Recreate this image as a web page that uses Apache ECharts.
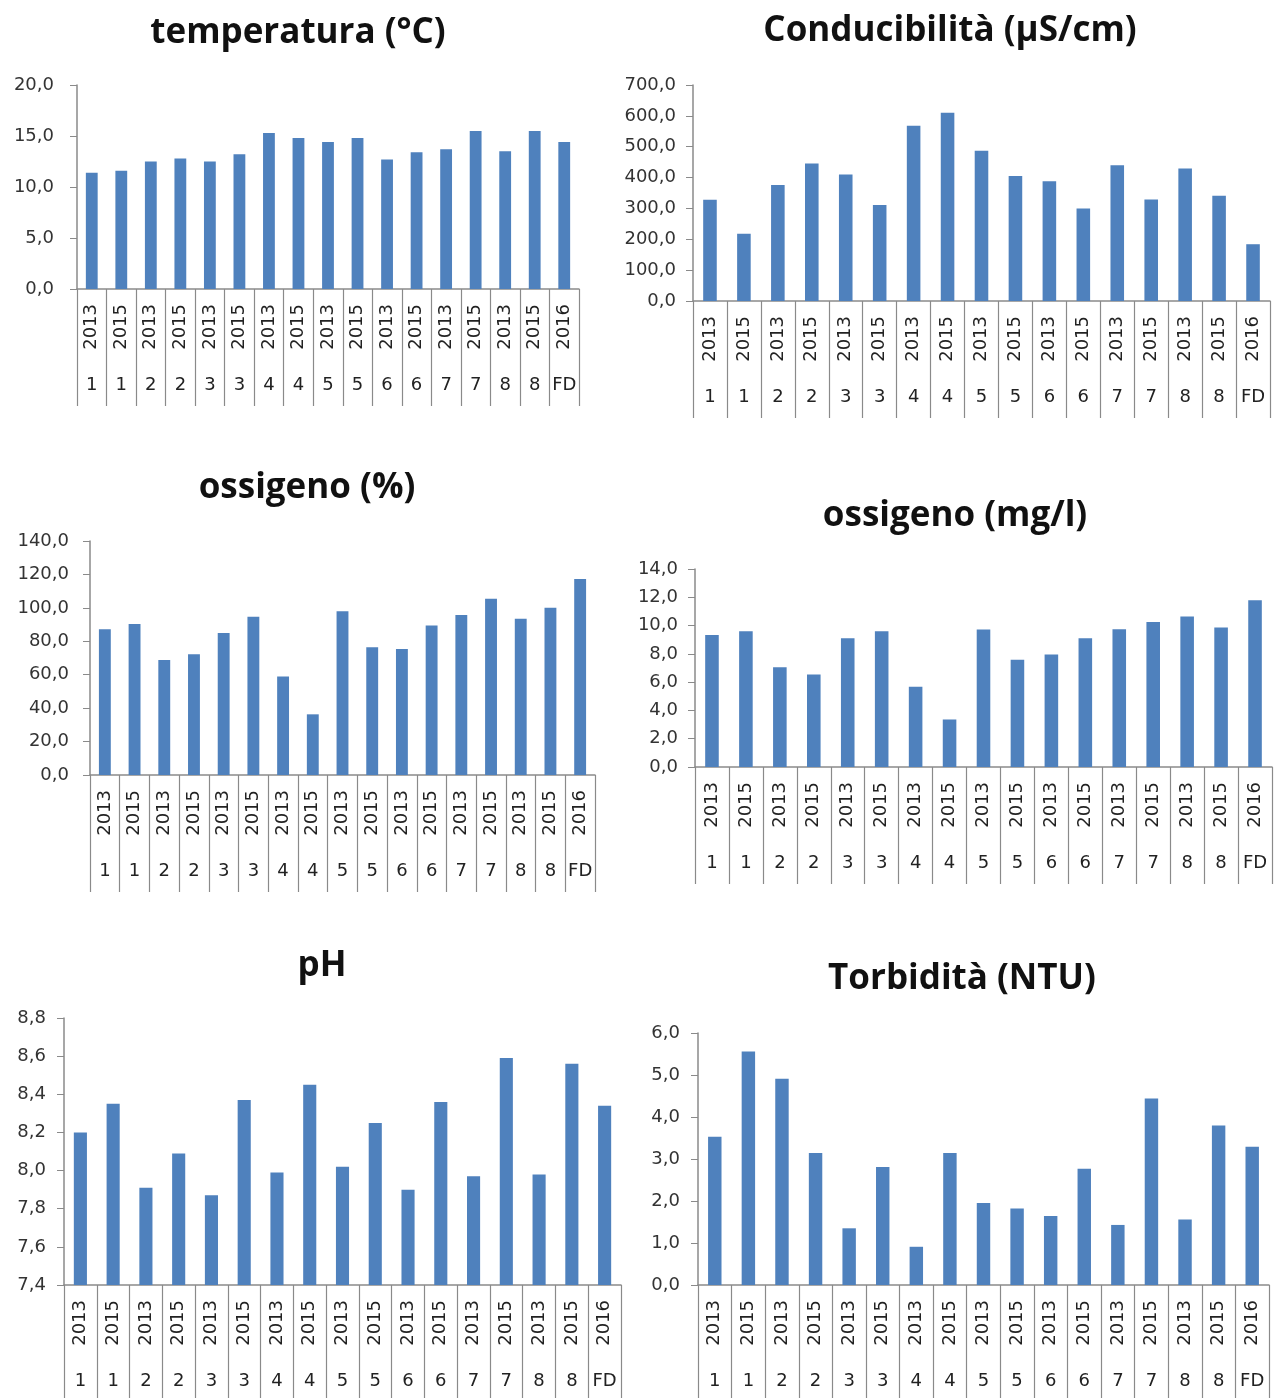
<!DOCTYPE html>
<html>
<head>
<meta charset="utf-8">
<script src="https://cdn.jsdelivr.net/npm/echarts@6/dist/echarts.min.js"></script>
<style>
  html, body { margin: 0; padding: 0; background: #fff; }
  #main { width: 1279px; height: 1398px; }
</style>
</head>
<body>
<div id="main"></div>
<script>
// categorie (anno + stazione)
var years = ['2013', '2015', '2013', '2015', '2013', '2015', '2013', '2015', '2013', '2015', '2013', '2015', '2013', '2015', '2013', '2015', '2016'];
var stations = ['1', '1', '2', '2', '3', '3', '4', '4', '5', '5', '6', '6', '7', '7', '8', '8', 'FD'];

// valori
var temperatura = [11.4, 11.6, 12.5, 12.8, 12.5, 13.2, 15.3, 14.8, 14.4, 14.8, 12.7, 13.4, 13.7, 15.5, 13.5, 15.5, 14.4];
var conducibilita = [328, 218, 376, 446, 410, 311, 568, 610, 487, 405, 388, 300, 440, 329, 429, 341, 184];
var ossigenoPerc = [87.2, 90.3, 68.8, 72.2, 85.0, 94.7, 59.0, 36.3, 97.9, 76.4, 75.4, 89.4, 95.7, 105.5, 93.5, 100.1, 117.3];
var ossigenoMg = [9.34, 9.6, 7.06, 6.54, 9.1, 9.6, 5.67, 3.36, 9.72, 7.58, 7.95, 9.1, 9.74, 10.26, 10.64, 9.86, 11.79];
var ph = [8.20, 8.35, 7.91, 8.09, 7.87, 8.37, 7.99, 8.45, 8.02, 8.25, 7.90, 8.36, 7.97, 8.59, 7.98, 8.56, 8.34];
var torbidita = [3.53, 5.56, 4.91, 3.14, 1.35, 2.81, 0.91, 3.14, 1.95, 1.82, 1.64, 2.77, 1.43, 4.44, 1.56, 3.80, 3.29];

var titles = ['temperatura (°C)', 'Conducibilità (µS/cm)', 'ossigeno (%)', 'ossigeno (mg/l)', 'pH', 'Torbidità (NTU)'];
var seriesData = [temperatura, conducibilita, ossigenoPerc, ossigenoMg, ph, torbidita];
var yMin = [0, 0, 0, 0, 7.4, 0];
var yMax = [20, 700, 140, 14, 8.8, 6];
var yStep = [5, 100, 20, 2, 0.2, 1];

// posizione dei sei pannelli
var panels = [
  { left: 77, top: 85, width: 502, height: 204, titleX: 293, titleY: 11, yMargin: 23 },
  { left: 693, top: 85, width: 577, height: 216, titleX: 945, titleY: 9, yMargin: 17 },
  { left: 90, top: 541, width: 505, height: 234, titleX: 302, titleY: 466, yMargin: 21 },
  { left: 695, top: 569, width: 577, height: 198, titleX: 950, titleY: 494, yMargin: 17 },
  { left: 64, top: 1018, width: 557, height: 267, titleX: 317, titleY: 944, yMargin: 18 },
  { left: 698, top: 1033, width: 571, height: 252, titleX: 957, titleY: 957, yMargin: 18 }
];

var axisColor = '#8a8a8a';
var textColor = '#222';
var labelFont = 'DejaVu Sans';

var option = {
  animation: false,
  backgroundColor: '#fff',
  title: [],
  grid: [],
  xAxis: [],
  yAxis: [],
  series: []
};

panels.forEach(function (p, i) {
  option.title.push({
    text: titles[i],
    left: p.titleX,
    top: p.titleY,
    textAlign: 'center',
    textStyle: { fontFamily: 'Open Sans', fontWeight: 'bold', fontSize: 35, color: '#111' }
  });
  option.grid.push({ left: p.left, top: p.top, width: p.width, height: p.height, containLabel: false });

  // anni, ruotati, con le linee di separazione
  option.xAxis.push({
    type: 'category',
    gridIndex: i,
    position: 'bottom',
    data: years,
    axisLine: { show: true, lineStyle: { color: axisColor, width: 1.5 } },
    axisTick: { show: true, interval: 0, length: 117, lineStyle: { color: axisColor, width: 1.2 } },
    axisLabel: { interval: 0, rotate: 90, margin: 15, fontFamily: labelFont, fontSize: 18, color: textColor }
  });
  // stazioni sotto
  option.xAxis.push({
    type: 'category',
    gridIndex: i,
    position: 'bottom',
    data: stations,
    axisLine: { show: false },
    axisTick: { show: false },
    axisLabel: { interval: 0, margin: 87, fontFamily: labelFont, fontSize: 18, color: textColor }
  });

  option.yAxis.push({
    type: 'value',
    gridIndex: i,
    min: yMin[i],
    max: yMax[i],
    interval: yStep[i],
    splitLine: { show: false },
    axisLine: { show: true, lineStyle: { color: axisColor, width: 1.5 } },
    axisTick: { show: true, length: 7, lineStyle: { color: axisColor } },
    axisLabel: {
      margin: p.yMargin,
      fontFamily: labelFont,
      fontSize: 18,
      color: '#333',
      formatter: function (v) { return v.toFixed(1).replace('.', ','); }
    }
  });

  option.series.push({
    type: 'bar',
    xAxisIndex: i * 2,
    yAxisIndex: i,
    data: seriesData[i],
    barWidth: '40%',
    itemStyle: { color: '#4F81BD' }
  });
});

var chart = echarts.init(document.getElementById('main'));
chart.setOption(option);
</script>
</body>
</html>
